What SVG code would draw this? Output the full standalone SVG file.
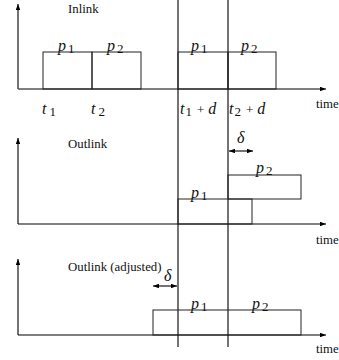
<svg xmlns="http://www.w3.org/2000/svg" width="339" height="360" viewBox="0 0 339 360">
  <style>
    .ax { stroke: #000; stroke-width: 1.1; fill: none; }
    .base { stroke: #555; stroke-width: 1.3; fill: none; }
    .box { stroke: #222; stroke-width: 1; fill: none; }
    .guide { stroke: #000; stroke-width: 1.1; }
    .lbl { font-family: "Liberation Serif", "DejaVu Serif", serif; font-size: 12.8px; fill: #111; }
    .math { font-family: "Liberation Serif", "DejaVu Serif", serif; font-style: italic; font-size: 16px; fill: #111; }
    .num { font-family: "Liberation Serif", "DejaVu Serif", serif; font-style: normal; font-size: 13px; fill: #111; }
  </style>
  <defs>
    <marker id="tip" viewBox="0 0 8 6" refX="8" refY="3" markerWidth="6" markerHeight="4.5" orient="auto-start-reverse" markerUnits="userSpaceOnUse">
      <path d="M0,0 L8,3 L0,6 Z" fill="#000"/>
    </marker>
  </defs>

  <!-- axes and time arrows -->
  <g id="connectors">
    <line class="ax" x1="18" y1="89" x2="18" y2="4" marker-end="url(#tip)"/>
    <line class="base" x1="18" y1="89" x2="326" y2="89" marker-end="url(#tip)"/>
    <line class="ax" x1="18" y1="224" x2="18" y2="138" marker-end="url(#tip)"/>
    <line class="ax" x1="18" y1="224" x2="326" y2="224" marker-end="url(#tip)"/>
    <line class="ax" x1="18" y1="335" x2="18" y2="259" marker-end="url(#tip)"/>
    <line class="ax" x1="18" y1="335" x2="326" y2="335" marker-end="url(#tip)"/>
    <!-- delay guides -->
    <line class="guide" x1="178" y1="0" x2="178" y2="347"/>
    <line class="guide" x1="228" y1="0" x2="228" y2="347"/>
    <!-- delta spans -->
    <line class="ax" x1="229" y1="151" x2="253" y2="151" marker-start="url(#tip)" marker-end="url(#tip)"/>
    <line class="ax" x1="153" y1="286" x2="177" y2="286" marker-start="url(#tip)" marker-end="url(#tip)"/>
  </g>

  <!-- Inlink -->
  <g id="inlink">
    <text class="lbl" x="68" y="13">Inlink</text>
    <rect class="box" x="43" y="52" width="49" height="37"/>
    <rect class="box" x="92" y="52" width="49" height="37"/>
    <text class="math" x="58" y="51">p<tspan class="num" dx="2" dy="2">1</tspan></text>
    <text class="math" x="107" y="51">p<tspan class="num" dx="2" dy="2">2</tspan></text>
    <rect class="box" x="178" y="52" width="50" height="37"/>
    <rect class="box" x="228" y="52" width="48" height="37"/>
    <text class="math" x="191" y="51">p<tspan class="num" dx="2" dy="2">1</tspan></text>
    <text class="math" x="241" y="51">p<tspan class="num" dx="2" dy="2">2</tspan></text>
    <text class="math" x="42" y="114">t<tspan class="num" dx="3" dy="2">1</tspan></text>
    <text class="math" x="91" y="114">t<tspan class="num" dx="3" dy="2">2</tspan></text>
    <text class="math" x="180" y="114">t<tspan class="num" dx="1" dy="2">1</tspan><tspan class="num" dx="5" dy="-2">+</tspan><tspan dx="4">d</tspan></text>
    <text class="math" x="229" y="114">t<tspan class="num" dx="1" dy="2">2</tspan><tspan class="num" dx="5" dy="-2">+</tspan><tspan dx="4">d</tspan></text>
    <text class="lbl" x="316" y="108">time</text>
  </g>

  <!-- Outlink -->
  <g id="outlink">
    <text class="lbl" x="68" y="148">Outlink</text>
    <text class="math" x="237" y="143">δ</text>
    <rect class="box" x="228" y="175" width="73" height="24"/>
    <rect class="box" x="178" y="199" width="74" height="25"/>
    <text class="math" x="256" y="173">p<tspan class="num" dx="2" dy="2">2</tspan></text>
    <text class="math" x="191" y="198">p<tspan class="num" dx="2" dy="2">1</tspan></text>
    <text class="lbl" x="316" y="244">time</text>
  </g>

  <!-- Outlink (adjusted) -->
  <g id="outlink-adjusted">
    <text class="lbl" x="68" y="271">Outlink (adjusted)</text>
    <text class="math" x="164" y="281">δ</text>
    <rect class="box" x="153" y="310" width="148" height="25"/>
    <text class="math" x="191" y="309">p<tspan class="num" dx="2" dy="2">1</tspan></text>
    <text class="math" x="252" y="309">p<tspan class="num" dx="2" dy="2">2</tspan></text>
    <text class="lbl" x="316" y="353">time</text>
  </g>
</svg>
